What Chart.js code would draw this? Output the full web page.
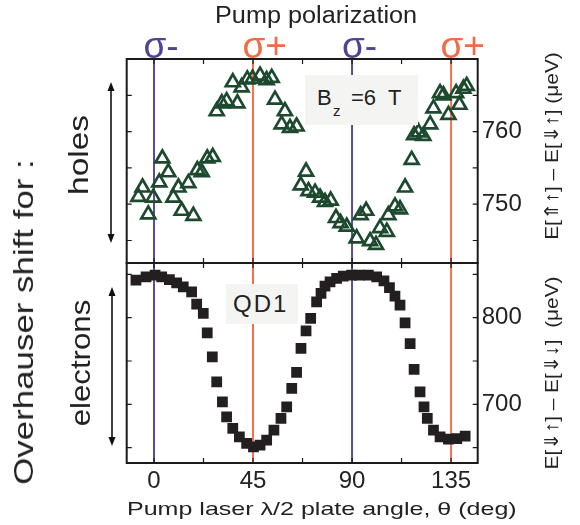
<!DOCTYPE html>
<html>
<head>
<meta charset="utf-8">
<script src="https://cdn.jsdelivr.net/npm/chart.js@4.4.1/dist/chart.umd.min.js"></script>
<style>
body { margin: 0; background: #fff; }
#wrap { position: relative; width: 580px; height: 525px; overflow: hidden;
        font-family: "Liberation Sans", Arial, sans-serif; color: #222; }
canvas { position: absolute; left: 0; top: 0; }
.t { position: absolute; white-space: nowrap; line-height: 1; }
.rot { transform: translate(-50%, -50%) rotate(-90deg) scaleX(var(--sx, 1)); }
.str { transform-origin: 0 50%; transform: scaleX(var(--sx, 1)); }
.box { position: absolute; background: #f4f4f2; }
</style>
</head>
<body>
<div id="wrap">
  <canvas id="holesChart" width="580" height="525"></canvas>
  <canvas id="elecChart" width="580" height="525"></canvas>

  <div class="t str" id="pumpTitle" style="left:215px;top:3.9px;font-size:23px;">Pump polarization</div>
  <div class="t" style="left:143.5px;top:27px;font-size:37px;color:#4e4590;">σ-</div>
  <div class="t" style="left:242.5px;top:27px;font-size:37px;color:#f26a46;">σ+</div>
  <div class="t" style="left:342px;top:27px;font-size:37px;color:#4e4590;">σ-</div>
  <div class="t" style="left:440.5px;top:27px;font-size:37px;color:#f26a46;">σ+</div>

  <div class="t rot" id="overTitle" style="left:24px;top:322px;font-size:28px;">Overhauser shift for :</div>
  <div class="t rot" id="holesTitle" style="left:78.6px;top:155px;font-size:28px;">holes</div>
  <div class="t rot" id="elecTitle" style="left:80.6px;top:363px;font-size:28px;">electrons</div>

  <div class="t rot" id="rightTop" style="left:550.7px;top:146px;font-size:19px;">E[⇑↑] – E[⇓↑] (μeV)</div>
  <div class="t rot" id="rightBot" style="left:550.7px;top:373px;font-size:19px;">E[⇓↑] – E[⇓↓]&nbsp; (μeV)</div>

  <div class="t str" id="xTitle" style="left:127px;top:499px;font-size:19px;">Pump laser λ/2 plate angle, θ (deg)</div>

  <div class="box" style="left:305px;top:75px;width:113px;height:50px;"></div>
  <div class="t" style="left:317px;top:87.4px;font-size:22px;">B</div>
  <div class="t" style="left:333px;top:103px;font-size:15px;">z</div>
  <div class="t" style="left:351px;top:87.4px;font-size:22px;">=6&nbsp; T</div>

  <div class="box" style="left:226px;top:284px;width:72px;height:40px;"></div>
  <div class="t" style="left:233px;top:292px;font-size:24px;letter-spacing:2px;">QD1</div>

  <svg style="position:absolute;left:0;top:0;" width="580" height="525">
    <g stroke="#111" stroke-width="1.6" fill="#111">
      <line x1="111" y1="88" x2="111" y2="237"/>
      <polygon points="111,82 107.5,91 114.5,91" stroke="none"/>
      <polygon points="111,243 107.5,234 114.5,234" stroke="none"/>
      <line x1="112" y1="293" x2="112" y2="440"/>
      <polygon points="112,287 108.5,296 115.5,296" stroke="none"/>
      <polygon points="112,446 108.5,437 115.5,437" stroke="none"/>
    </g>
  </svg>
</div>

<script>
// pump laser half-wave plate angle axis (deg)
const xMin = -12.4;
const xMax = 147.1;
const xTicks = [0, 45, 90, 135];
const xMinorTicks = [0, 22.5, 45, 67.5, 90, 112.5, 135];

// polarization marker lines
const polAngles = [0, 45, 90, 135];
const polColors = ['#5b4b9b', '#f4714f', '#5b4b9b', '#f4714f'];

// holes: E[⇑↑] - E[⇓↑] (ueV)
const holesAngle = [-7.1, -5.2, -2.6, -0.3, 2.4, 3.8, 6.5, 8.8, 11.1, 12.6, 15.6, 17.9, 19.7, 21.7,
  24.2, 26.7, 28.5, 30.8, 33.0, 35.8, 37.9, 39.8, 42.4, 44.8, 48.2, 51.2, 53.5, 55.0, 58.0, 59.5,
  61.8, 64.8, 66.7, 69.1, 70.2, 73.2, 75.5, 77.7, 80.3, 82.7, 84.8, 87.6, 92.1, 93.9, 96.4, 98.2,
  100.9, 102.7, 105.8, 106.5, 109.5, 111.8, 114.1, 117.1, 118.2, 120.2, 122.4, 125.5, 127.0,
  130.0, 131.5, 133.8, 137.3, 138.8, 140.6, 142.1];
const holesShift = [751.0, 752.3, 748.6, 750.9, 753.0, 756.3, 754.4, 750.9, 752.3, 749.1, 752.9, 748.4, 754.7, 754.4,
  756.3, 756.5, 762.8, 763.9, 764.2, 766.8, 763.9, 766.1, 767.2, 767.3, 767.7, 767.1, 767.4, 764.4, 761.0, 762.8,
  760.5, 760.7, 752.6, 754.5, 751.8, 751.6, 750.9, 750.3, 750.5, 748.1, 747.4, 746.9, 745.3, 748.5, 749.1, 744.9,
  744.4, 746.7, 746.2, 748.5, 749.7, 749.3, 752.3, 756.1, 759.5, 759.9, 759.4, 761.0, 763.2,
  765.3, 765.0, 762.3, 765.3, 763.7, 765.9, 766.3];
const holesMin = 741.9;
const holesMax = 770;
const holesTicks = [750, 760];
const holesMinorTicks = [745, 750, 755, 760, 765];

// electrons: E[⇓↑] - E[⇓↓] (ueV)
const elecAngle = [-8.2, -3.6, 0.5, 3.5, 7.0, 10.3, 13.3, 17.1, 19.4, 22.4, 24.2, 26.5, 28.5, 31.1,
  33.0, 35.8, 38.8, 42.1, 45.2, 48.2, 51.2, 54.5, 57.7, 60.3, 62.6, 64.8, 66.8, 69.1, 71.2, 73.9,
  75.9, 77.7, 80.0, 83.0, 86.0, 89.8, 93.2, 97.4, 101.2, 104.5, 107.0, 109.5, 111.8, 114.1, 116.4,
  118.2, 120.9, 122.7, 124.2, 127.0, 130.0, 133.8, 137.6, 141.4];
const elecShift = [843.4, 847.2, 849.1, 847.2, 844.1, 840.3, 835.7, 829.9, 815.7, 804.9, 782.6, 754.8, 726.0, 702.9,
  685.6, 672.1, 662.5, 654.8, 650.9, 652.8, 658.6, 670.2, 683.6, 697.1, 718.3, 736.8, 764.5, 784.9, 799.1, 818.4,
  828.0, 836.4, 841.4, 845.3, 848.0, 849.1, 849.1, 849.1, 847.2, 842.6, 834.9, 824.9, 814.5, 794.1, 770.2,
  740.2, 714.4, 697.1, 683.6, 670.2, 662.5, 659.8, 660.4, 663.2];
const elecMin = 632.2;
const elecMax = 863.2;
const elecTicks = [700, 800];
const elecMinorTicks = [650, 700, 750, 800, 850];

const tickFont = { family: 'Liberation Sans', size: 24 };

// polarization lines behind the points, frame and inward ticks on top
const panelDecor = {
  id: 'panelDecor',
  beforeDatasetsDraw(chart) {
    const { ctx, chartArea: a, scales: { x } } = chart;
    ctx.save();
    ctx.lineWidth = 2;
    polAngles.forEach((ang, i) => {
      const px = x.getPixelForValue(ang);
      ctx.strokeStyle = polColors[i];
      ctx.beginPath();
      ctx.moveTo(px, a.top);
      ctx.lineTo(px, a.bottom);
      ctx.stroke();
    });
    ctx.restore();
  },
  afterDatasetsDraw(chart, args, opts) {
    const { ctx, chartArea: a, scales: { x, y } } = chart;
    const len = 5;
    ctx.save();
    ctx.strokeStyle = '#1a1a1a';
    ctx.lineWidth = 1.2;
    ctx.beginPath();
    xMinorTicks.forEach(v => {
      const px = x.getPixelForValue(v);
      ctx.moveTo(px, a.top); ctx.lineTo(px, a.top + len);
      ctx.moveTo(px, a.bottom); ctx.lineTo(px, a.bottom - len);
    });
    opts.yMinor.forEach(v => {
      const py = y.getPixelForValue(v);
      ctx.moveTo(a.left, py); ctx.lineTo(a.left + len, py);
      ctx.moveTo(a.right, py); ctx.lineTo(a.right - len, py);
    });
    ctx.stroke();
    ctx.lineWidth = 2;
    ctx.strokeRect(a.left, a.top, a.right - a.left, a.bottom - a.top);
    ctx.restore();
  }
};

function fixTicks(values) {
  return scale => { scale.ticks = values.map(v => ({ value: v })); };
}

new Chart(document.getElementById('holesChart'), {
  type: 'scatter',
  data: {
    datasets: [{
      data: holesAngle.map((a, i) => ({ x: a, y: holesShift[i] })),
      pointStyle: 'triangle',
      pointRadius: 8,
      borderWidth: 2.7,
      borderColor: '#1d4a2e',
      backgroundColor: 'rgba(0,0,0,0)'
    }]
  },
  options: {
    responsive: false,
    animation: false,
    layout: { padding: { left: 126.7, top: 59, right: 42.3, bottom: 262 } },
    plugins: { legend: { display: false }, tooltip: { enabled: false }, panelDecor: { yMinor: holesMinorTicks } },
    scales: {
      x: { type: 'linear', min: xMin, max: xMax, display: false },
      y: {
        type: 'linear', position: 'right', min: holesMin, max: holesMax,
        afterBuildTicks: fixTicks(holesTicks),
        afterFit: s => { s.width = 60; },
        grid: { display: false, drawTicks: false },
        border: { display: false },
        ticks: { padding: 4, font: tickFont, color: '#222' }
      }
    }
  },
  plugins: [panelDecor]
});

new Chart(document.getElementById('elecChart'), {
  type: 'scatter',
  data: {
    datasets: [{
      data: elecAngle.map((a, i) => ({ x: a, y: elecShift[i] })),
      pointStyle: 'rect',
      pointRadius: 7.6,
      borderWidth: 0,
      backgroundColor: '#231f20'
    }]
  },
  options: {
    responsive: false,
    animation: false,
    layout: { padding: { left: 126.7, top: 263, right: 42.3, bottom: 22 } },
    plugins: { legend: { display: false }, tooltip: { enabled: false }, panelDecor: { yMinor: elecMinorTicks } },
    scales: {
      x: {
        type: 'linear', min: xMin, max: xMax,
        afterBuildTicks: fixTicks(xTicks),
        afterFit: s => { s.height = 40; },
        grid: { display: false, drawTicks: false },
        border: { display: false },
        ticks: { padding: 4, font: tickFont, color: '#222', maxRotation: 0 }
      },
      y: {
        type: 'linear', position: 'right', min: elecMin, max: elecMax,
        afterBuildTicks: fixTicks(elecTicks),
        afterFit: s => { s.width = 60; },
        grid: { display: false, drawTicks: false },
        border: { display: false },
        ticks: { padding: 4, font: tickFont, color: '#222' }
      }
    }
  },
  plugins: [panelDecor]
});

// stretch the wide labels to the lengths they have in the figure
const textLengths = { pumpTitle: 202, overTitle: 325, holesTitle: 80, elecTitle: 127,
  rightTop: 188, rightBot: 193, xTitle: 390 };
Object.keys(textLengths).forEach(id => {
  const el = document.getElementById(id);
  el.style.setProperty('--sx', textLengths[id] / el.offsetWidth);
});
</script>
</body>
</html>
